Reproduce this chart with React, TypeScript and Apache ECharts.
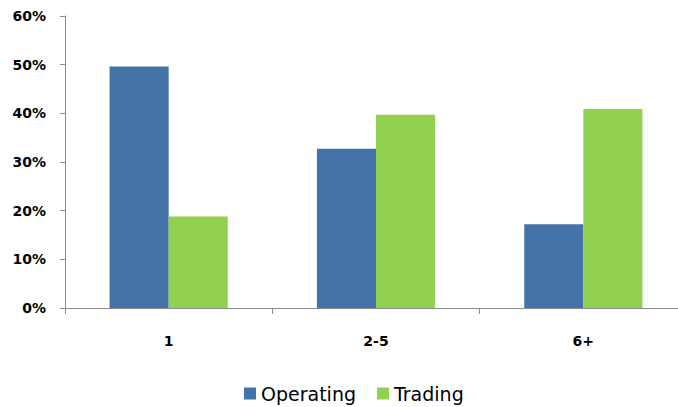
import React, { useEffect, useRef } from "react";
import * as echarts from "echarts";

// Share of firms by size band, split by activity type
const categories = ["1", "2-5", "6+"];
const operating = [49.6, 32.7, 17.2];
const trading = [18.8, 39.7, 40.9];
const yTicks = { min: 0, max: 60, interval: 10 };

const BLUE = "#4572A7";
const GREEN = "#92D050";
const AXIS = "#8A8A8A";
const FONT = "DejaVu Sans";

export default function App() {
  const ref = useRef<HTMLDivElement>(null);

  useEffect(() => {
    if (!ref.current) return;
    const chart = echarts.init(ref.current, undefined, { renderer: "svg" });
    chart.setOption({
      animation: false,
      backgroundColor: "#ffffff",
      // the category axis runs a little past the visible right edge
      grid: { left: 65, right: 0, top: 16, bottom: 99, containLabel: false },
      legend: {
        left: 239,
        top: 379,
        itemWidth: 12,
        itemHeight: 12,
        itemGap: 21,
        icon: "rect",
        textStyle: { fontFamily: FONT, fontSize: 19, color: "#000" },
        data: ["Operating", "Trading"],
      },
      xAxis: {
        type: "category",
        data: categories,
        axisLine: { lineStyle: { color: AXIS, width: 1 } },
        axisTick: { show: true, length: 6, lineStyle: { color: AXIS } },
        axisLabel: {
          margin: 26,
          fontFamily: FONT,
          fontWeight: "bold",
          fontSize: 14,
          color: "#000",
        },
      },
      yAxis: {
        type: "value",
        min: yTicks.min,
        max: yTicks.max,
        interval: yTicks.interval,
        splitLine: { show: false },
        axisLine: { show: true, lineStyle: { color: AXIS, width: 1 } },
        axisTick: { show: true, length: 5, lineStyle: { color: AXIS } },
        axisLabel: {
          margin: 19,
          formatter: "{value}%",
          fontFamily: FONT,
          fontWeight: "bold",
          fontSize: 14,
          color: "#000",
        },
      },
      series: [
        {
          name: "Operating",
          type: "bar",
          data: operating,
          barGap: "0%",
          barCategoryGap: "43%",
          itemStyle: { color: BLUE },
        },
        {
          name: "Trading",
          type: "bar",
          data: trading,
          itemStyle: { color: GREEN },
        },
      ],
    });
    return () => chart.dispose();
  }, []);

  return (
    <div
      style={{
        position: "absolute",
        left: 0,
        top: 0,
        width: 678,
        height: 407,
        overflow: "hidden",
        background: "#fff",
      }}
    >
      <div ref={ref} style={{ width: 687, height: 407 }} />
    </div>
  );
}
